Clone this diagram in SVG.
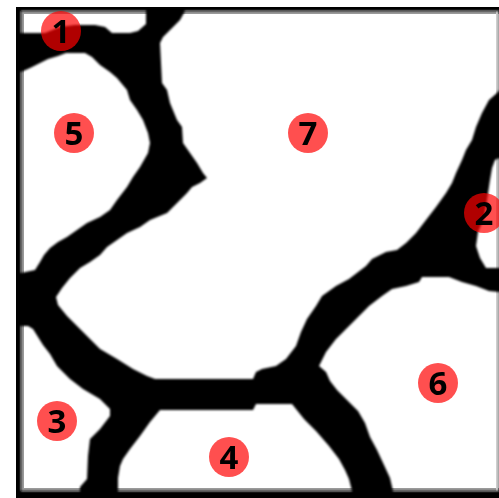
<svg xmlns="http://www.w3.org/2000/svg" width="499" height="498" viewBox="0 0 499 498">
  <defs>
    <filter id="soft" x="-5%" y="-5%" width="110%" height="110%">
      <feGaussianBlur stdDeviation="0.8"/>
    </filter>
    <style>
      .grain { fill: #ffffff; }
      .edge { stroke: #9a9a9a; stroke-width: 3; mix-blend-mode: multiply; }
      .badge { fill: #ff0000; fill-opacity: 0.69; }
      .num { font-family: "Open Sans", "Liberation Sans", sans-serif; font-weight: 700; font-size: 33px; fill: #000; text-anchor: middle; }
    </style>
  </defs>

  <!-- grain boundary network (black background) -->
  <rect x="16" y="7" width="483" height="491" fill="#000"/>

  <!-- grains -->
  <g filter="url(#soft)">
    <polygon id="grain-1" class="grain" points="21,11 146,11 146,24 138,31 130,33 112,33 105,27 95,25 75,25 60,27 45,33 21,33"/>
    <polygon id="grain-5" class="grain" points="21,72 30,68 40,63 48,59 58,56 66,53 85,53 92,57 100,65 110,72 117,78 127,90 130,100 137,110 143,120 148,133 150,143 148,153 140,167 133,177 127,187 117,200 110,210 100,217 87,223 77,230 67,237 58,242 50,248 44,255 40,262 35,270 21,273"/>
    <polygon id="grain-7" class="grain" points="185,11 499,11 499,90 497,93 489,100 482,113 476,127 472,140 466,150 462,160 456,173 452,183 446,193 436,207 426,220 416,233 406,243 397,250 386,252 372,259 366,266 349,279 336,286 322,296 316,306 307,319 301,332 296,346 286,359 276,366 262,369 256,372 253,379 155,379 147,376 133,369 117,359 100,349 83,332 67,316 58,305 56,297 62,288 70,278 80,268 90,262 100,255 107,247 117,240 127,233 140,227 150,220 167,213 173,207 180,200 187,193 192,187 200,183 207,178 203,173 197,163 190,153 183,143 182,127 177,120 170,103 167,90 162,83 160,43 163,37 170,30 180,20"/>
    <polygon id="grain-2" class="grain" points="495,160 499,158 499,268 486,268 480,258 476,246 478,232 484,218 487,200 490,180 492,168"/>
    <polygon id="grain-6" class="grain" points="319,366 326,352 336,339 346,329 359,316 369,306 382,296 392,289 406,286 419,282 422,277 449,277 462,282 476,286 489,291 499,292 499,491 393,491 390,478 384,465 377,450 370,437 365,423 358,411 347,400 337,390 330,381 326,372"/>
    <polygon id="grain-4" class="grain" points="160,410 253,410 256,404 292,404 304,419 316,431 329,446 339,459 345,470 349,479 352,491 118,491 118,478 120,466 123,459 130,449 140,436 150,422"/>
    <polygon id="grain-3" class="grain" points="21,326 28,326 33,329 43,345 50,354 57,366 70,379 83,389 100,399 110,409 110,416 100,429 90,439 88,456 87,479 80,487 80,491 21,491"/>
  </g>

  <!-- inner shading along the frame -->
  <g class="edge">
    <line x1="22.5" y1="11" x2="22.5" y2="491"/>
    <line x1="21" y1="12.5" x2="499" y2="12.5"/>
    <line x1="21" y1="489.5" x2="499" y2="489.5"/>
    <line x1="497" y1="11" x2="497" y2="491" style="stroke:#cfcfcf;stroke-width:2"/>
  </g>

  <!-- grain labels -->
  <g id="label-1"><circle class="badge" cx="61" cy="31" r="20"/><text class="num" x="61" y="43">1</text></g>
  <g id="label-2"><circle class="badge" cx="484" cy="213" r="20"/><text class="num" x="484" y="225">2</text></g>
  <g id="label-3"><circle class="badge" cx="57" cy="421" r="20"/><text class="num" x="57" y="433">3</text></g>
  <g id="label-4"><circle class="badge" cx="229" cy="457" r="20"/><text class="num" x="229" y="469">4</text></g>
  <g id="label-5"><circle class="badge" cx="74" cy="133" r="20"/><text class="num" x="74" y="145">5</text></g>
  <g id="label-6"><circle class="badge" cx="438" cy="383" r="20"/><text class="num" x="438" y="395">6</text></g>
  <g id="label-7"><circle class="badge" cx="308" cy="133" r="20"/><text class="num" x="308" y="145">7</text></g>
</svg>
